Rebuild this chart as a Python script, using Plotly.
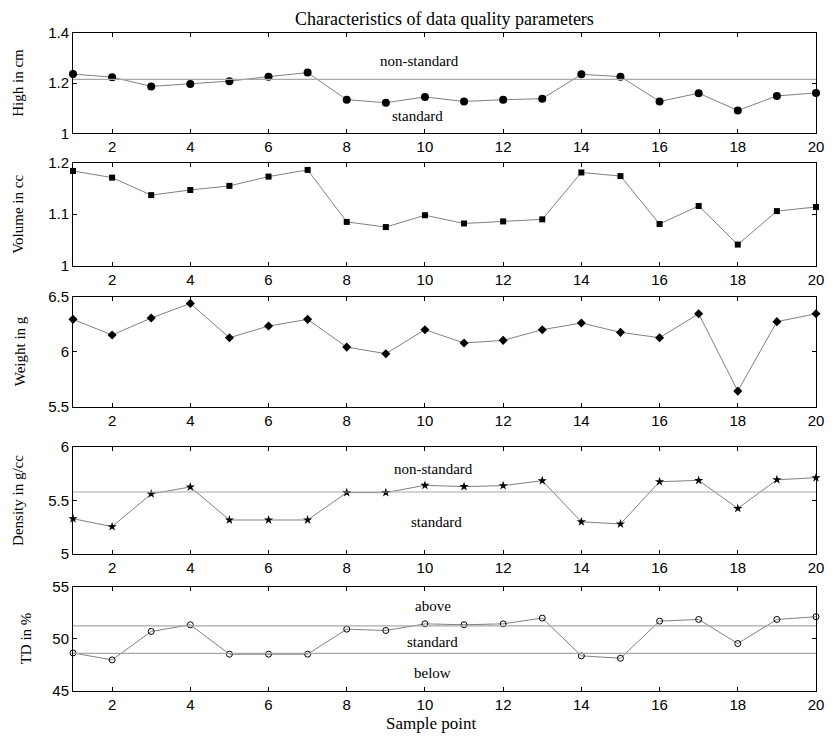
import plotly.graph_objects as go

x = list(range(1, 21))

high_cm = [1.236, 1.224, 1.187, 1.197, 1.208, 1.226, 1.242, 1.134, 1.122, 1.145,
           1.127, 1.134, 1.138, 1.235, 1.226, 1.127, 1.160, 1.091, 1.149, 1.161]
volume_cc = [1.184, 1.171, 1.137, 1.147, 1.155, 1.173, 1.186, 1.085, 1.075, 1.098,
             1.082, 1.086, 1.090, 1.181, 1.174, 1.081, 1.116, 1.041, 1.106, 1.114]
weight_g = [6.294, 6.152, 6.306, 6.439, 6.127, 6.233, 6.294, 6.042, 5.982, 6.200,
            6.079, 6.103, 6.200, 6.261, 6.176, 6.127, 6.345, 5.642, 6.273, 6.345]
density = [5.329, 5.255, 5.560, 5.625, 5.317, 5.317, 5.317, 5.572, 5.572, 5.640,
           5.628, 5.637, 5.683, 5.300, 5.280, 5.674, 5.686, 5.425, 5.692, 5.711]
td_pct = [48.65, 47.98, 50.71, 51.35, 48.53, 48.53, 48.53, 50.93, 50.80, 51.44,
          51.35, 51.44, 51.99, 48.37, 48.14, 51.70, 51.86, 49.55, 51.86, 52.12]

high_limit = 1.215
density_limit = 5.578
td_upper = 51.25
td_lower = 48.6

y_titles = ["High in cm", "Volume in cc", "Weight in g", "Density in g/cc", "TD in %"]
y_ranges = [[1, 1.4], [1, 1.2], [5.5, 6.5], [5, 6], [45, 55]]
y_tickvals = [[1, 1.2, 1.4], [1, 1.1, 1.2], [5.5, 6, 6.5], [5, 5.5, 6], [45, 50, 55]]
y_ticktext = [["1", "1.2", "1.4"], ["1", "1.1", "1.2"], ["5.5", "6", "6.5"],
              ["5", "5.5", "6"], ["45", "50", "55"]]
x_tickvals = [2, 4, 6, 8, 10, 12, 14, 16, 18, 20]
series = [high_cm, volume_cc, weight_g, density, td_pct]
markers = [dict(symbol="circle", size=8, color="black"),
           dict(symbol="square", size=6, color="black"),
           dict(symbol="diamond", size=7, color="black"),
           dict(symbol="star", size=7, color="black"),
           dict(symbol="circle-open", size=6, color="black", line=dict(width=1, color="black"))]

# domain layout (pixel-matched)
H = 736
T, B = 33, 45
PH = H - T - B
panel_px = [(33, 133.3), (162.7, 265.7), (296.7, 406.7), (446.7, 554), (586.7, 691)]
domains = [[(H - B - b) / PH, (H - B - t) / PH] for t, b in panel_px]
domains = [[max(0, d0), min(1, d1)] for d0, d1 in domains]

fig = go.Figure()
ref_color = "#a8a8a8"
line_color = "#808080"

for i in range(5):
    xa = "x" if i == 0 else f"x{i+1}"
    ya = "y" if i == 0 else f"y{i+1}"
    fig.add_trace(go.Scatter(x=x, y=series[i], mode="lines+markers", xaxis=xa, yaxis=ya,
                             line=dict(color=line_color, width=1), marker=markers[i],
                             cliponaxis=False, showlegend=False))

# reference lines
ref_lines = [(0, high_limit), (3, density_limit), (4, td_upper), (4, td_lower)]
for i, v in ref_lines:
    xa = "x" if i == 0 else f"x{i+1}"
    ya = "y" if i == 0 else f"y{i+1}"
    fig.add_trace(go.Scatter(x=[x[0], x[-1]], y=[v, v], mode="lines", xaxis=xa, yaxis=ya,
                             line=dict(color=ref_color, width=1.2), showlegend=False,
                             hoverinfo="skip"))

layout = dict(
    width=835, height=736,
    margin=dict(l=73, r=11, t=T, b=B),
    plot_bgcolor="white", paper_bgcolor="white",
    font=dict(family="Liberation Sans, Arial", size=14, color="black"),
)
for i in range(5):
    xk = "xaxis" if i == 0 else f"xaxis{i+1}"
    yk = "yaxis" if i == 0 else f"yaxis{i+1}"
    ya = "y" if i == 0 else f"y{i+1}"
    xa = "x" if i == 0 else f"x{i+1}"
    layout[xk] = dict(domain=[0, 1], anchor=ya, range=[1, 20], tickvals=x_tickvals,
                      ticks="inside", ticklen=4, tickcolor="black", showline=True,
                      linecolor="black", linewidth=1, mirror="ticks", showgrid=False,
                      zeroline=False, tickfont=dict(size=15))
    layout[yk] = dict(domain=domains[i], anchor=xa, range=y_ranges[i],
                      tickvals=y_tickvals[i], ticktext=y_ticktext[i],
                      ticks="inside", ticklen=4, tickcolor="black", showline=True,
                      linecolor="black", linewidth=1, mirror="ticks", showgrid=False,
                      zeroline=False, tickfont=dict(size=15))
fig.update_layout(**layout)

serif = dict(family="Liberation Serif, Times New Roman", color="black")

fig.add_annotation(text="Characteristics of data quality parameters", xref="paper", x=0.5,
                   yref="paper", y=1, yanchor="bottom", yshift=2, xanchor="center",
                   showarrow=False, font=dict(size=18, **serif))

ylabel_px = [18, 18, 19, 18, 25]
for i in range(5):
    ya = "y" if i == 0 else f"y{i+1}"
    fig.add_annotation(text=y_titles[i], textangle=-90, xref="paper", x=(ylabel_px[i] - 73) / 751,
                       yref=f"{ya} domain", y=0.5, xanchor="center", yanchor="middle",
                       showarrow=False, font=dict(size=15, **serif))

labels = [(0, 9.85, 1.288, "non-standard"), (0, 9.82, 1.071, "standard"),
          (3, 10.23, 5.79, "non-standard"), (3, 10.3, 5.30, "standard"),
          (4, 10.2, 53.17, "above"), (4, 10.2, 49.71, "standard"), (4, 10.2, 46.73, "below")]
for i, lx, ly, t in labels:
    xa = "x" if i == 0 else f"x{i+1}"
    ya = "y" if i == 0 else f"y{i+1}"
    fig.add_annotation(text=t, x=lx, y=ly, xref=xa, yref=ya, showarrow=False,
                       xanchor="center", yanchor="middle", font=dict(size=15, **serif))

fig.add_annotation(text="Sample point", xref="paper", x=(435 - 73) / 751, yref="paper", y=0,
                   yshift=-44, xanchor="center", yanchor="bottom", showarrow=False,
                   font=dict(size=17, **serif))

fig.write_html("out.html", config={"displayModeBar": False},
               post_script="document.body.style.margin='0';")
